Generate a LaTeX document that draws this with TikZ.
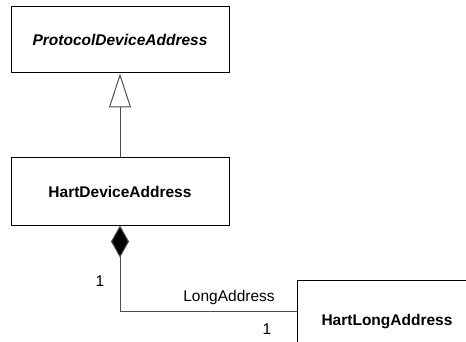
\documentclass[tikz,border=0pt]{standalone}
\usepackage{fontspec}
\setmainfont{Liberation Sans}
\usetikzlibrary{arrows.meta,calc}
\begin{document}
\begin{tikzpicture}[x=1pt,y=-1pt,
  classbox/.style={draw=black, line width=1pt, fill=white, inner sep=0pt},
  link/.style={draw=black!70, line width=1pt},
  lbl/.style={font=\fontsize{15.5}{18}\selectfont, inner sep=0pt}]
  \useasboundingbox (0,0) rectangle (466,342);
  \clip (0,0) rectangle (466,342);

  % classes
  \node[classbox, minimum width=218pt, minimum height=66pt,
        font=\fontsize{15.5}{18}\selectfont\bfseries\itshape]
        (pda) at (120,40) {ProtocolDeviceAddress};
  \node[classbox, minimum width=218pt, minimum height=67pt,
        font=\fontsize{15.5}{18}\selectfont\bfseries]
        (hda) at (120,191.5) {HartDeviceAddress};
  \node[classbox, minimum width=180pt, minimum height=84pt,
        font=\fontsize{15.5}{18}\selectfont\bfseries]
        (hla) at (387,322) {HartLongAddress};

  % generalisation
  \draw[link, -{Triangle[open, length=34pt, width=22pt, line width=1pt]}]
        (hda.north) -- (pda.south);

  % composition
  \coordinate (join) at ($(hla.north west)+(0,32)$);
  \draw[link, {Diamond[length=32pt, width=18pt, fill=black]}-]
        (hda.south) |- (join);

  % association labels
  \node[lbl] (m1) at (100,281) {1};
  \node[lbl] (role) at (229,297) {LongAddress};
  \node[lbl] (m2) at (267,329) {1};
\end{tikzpicture}
\end{document}
